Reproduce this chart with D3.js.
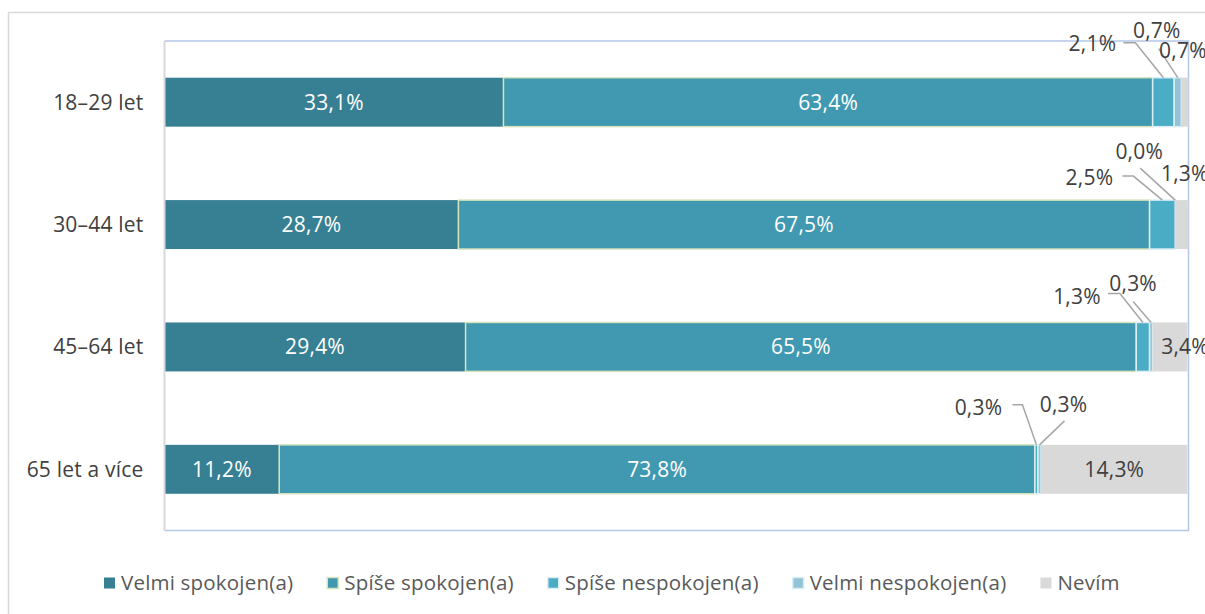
<!DOCTYPE html>
<html>
<head>
<meta charset="utf-8">
<script src="https://cdn.jsdelivr.net/npm/d3@7"></script>
<style>
  body { margin: 0; background: #fff; }
  svg { display: block; font-family: 'Open Sans', sans-serif; letter-spacing: 0.2px; }
</style>
</head>
<body>
<div id="chart"></div>
<script>
// kategorie a serie
var categories = ['18–29 let', '30–44 let', '45–64 let', '65 let a více'];
var seriesNames = ['Velmi spokojen(a)', 'Spíše spokojen(a)', 'Spíše nespokojen(a)', 'Velmi nespokojen(a)', 'Nevím'];
var velmiSpokojen = [33.1, 28.7, 29.4, 11.2];
var spiseSpokojen = [63.4, 67.5, 65.5, 73.8];
var spiseNespokojen = [2.1, 2.5, 1.3, 0.3];
var velmiNespokojen = [0.7, 0.0, 0.3, 0.3];
var nevim = [0.7, 1.3, 3.4, 14.3];

var colors = ['#377f93', '#4099b0', '#4bacc6', '#93c3d6', '#d9d9d9'];
var strokes = ['none', '#d7e4bd', '#dbeef4', '#dbeef4', 'none'];

// popisky mimo sloupec - offsety od stredu segmentu (horni hrana)
var callouts = [
  {row: 0, s: 2, dx: -71, dy: -34, leader: [[-40, -35], [-28, -35]]},
  {row: 0, s: 3, dx: -21, dy: -47, leader: [[-19, -29]]},
  {row: 0, s: 4, dx: -2, dy: -27, leader: []},
  {row: 1, s: 2, dx: -73, dy: -22, leader: [[-40, -24], [-29, -24]]},
  {row: 1, s: 3, dx: -36, dy: -48, leader: [[-35, -32]]},
  {row: 1, s: 4, dx: 3, dy: -26, leader: []},
  {row: 2, s: 2, dx: -66, dy: -26, leader: [[-35, -29], [-23, -29]]},
  {row: 2, s: 3, dx: -18, dy: -39, leader: [[-18, -21]]},
  {row: 3, s: 2, dx: -58, dy: -37, leader: [[-24, -40], [-14, -40]]},
  {row: 3, s: 3, dx: 24, dy: -40, leader: [[25, -24]]}
];

var W = 1205, H = 614;
var fs = 21;
var margin = {left: 164.5, right: 16.5, top: 41, bottom: 83.5};

var svg = d3.select('#chart')
  .append('svg')
  .attr('width', W)
  .attr('height', H);

// vnejsi ramecek
svg.append('path')
  .attr('d', 'M8.5,' + H + 'V12.5H' + W)
  .attr('fill', 'none')
  .attr('stroke', '#d9d9d9')
  .attr('stroke-width', 1.5);

var x = d3.scaleLinear().domain([0, 100]).range([margin.left, W - margin.right]);
var y = d3.scaleBand().domain(categories).range([margin.top, H - margin.bottom]).paddingInner(0.6).paddingOuter(0.3);

var rows = categories.map(function(c, i) {
  return {cat: c, vals: [velmiSpokojen[i], spiseSpokojen[i], spiseNespokojen[i], velmiNespokojen[i], nevim[i]]};
});

var segs = [];
rows.forEach(function(r, i) {
  var acc = 0;
  r.vals.forEach(function(v, s) {
    segs.push({row: i, cat: r.cat, s: s, v: v, x0: acc, x1: acc + v});
    acc += v;
  });
});

// plot area ramecek
svg.append('path')
  .attr('d', 'M' + margin.left + ',' + (margin.top) + 'H' + (W - margin.right) + 'V' + (H - margin.bottom) + 'H' + margin.left)
  .attr('fill', 'none')
  .attr('stroke', '#b4c7e7')
  .attr('stroke-width', 1.5);

svg.selectAll('rect.seg')
  .data(segs.filter(function(d) { return d.v > 0; }))
  .enter()
  .append('rect')
  .attr('class', 'seg')
  .attr('x', function(d) { return x(d.x0); })
  .attr('y', function(d) { return y(d.cat); })
  .attr('width', function(d) { return x(d.x1) - x(d.x0); })
  .attr('height', y.bandwidth())
  .attr('fill', function(d) { return colors[d.s]; })
  .attr('stroke', function(d) { return strokes[d.s]; })
  .attr('stroke-width', 1.5);

// osa y
svg.append('line')
  .attr('x1', margin.left).attr('x2', margin.left)
  .attr('y1', margin.top).attr('y2', H - margin.bottom)
  .attr('stroke', '#d9d9d9')
  .attr('stroke-width', 2);

svg.selectAll('text.cat')
  .data(categories)
  .enter()
  .append('text')
  .attr('class', 'cat')
  .attr('x', margin.left - 21)
  .attr('y', function(d) { return y(d) + y.bandwidth() / 2; })
  .attr('dy', '0.35em')
  .attr('text-anchor', 'end')
  .attr('font-size', fs)
  .attr('fill', '#404040')
  .text(function(d) { return d; });

function fmt(v) { return v.toFixed(1).replace('.', ',') + '%'; }

// popisky uvnitr
var big = segs.filter(function(d) { return d.v >= 5; });
svg.selectAll('text.inlab')
  .data(big)
  .enter()
  .append('text')
  .attr('class', 'inlab')
  .attr('x', function(d) { return (x(d.x0) + x(d.x1)) / 2; })
  .attr('y', function(d) { return y(d.cat) + y.bandwidth() / 2; })
  .attr('dy', '0.35em')
  .attr('text-anchor', 'middle')
  .attr('font-size', fs)
  .attr('fill', function(d) { return d.s === 4 ? '#404040' : '#fff'; })
  .text(function(d) { return fmt(d.v); });

// 3,4% - uvnitr Nevím, posunute
var s34 = segs.filter(function(d) { return d.row === 2 && d.s === 4; })[0];
svg.append('text')
  .attr('x', (x(s34.x0) + x(s34.x1)) / 2 + 15)
  .attr('y', y(s34.cat) + y.bandwidth() / 2)
  .attr('dy', '0.35em')
  .attr('text-anchor', 'middle')
  .attr('font-size', fs)
  .attr('fill', '#404040')
  .text(fmt(s34.v));

// popisky s vodicimi carami
callouts.forEach(function(c) {
  var d = segs.filter(function(e) { return e.row === c.row && e.s === c.s; })[0];
  var ax = (x(d.x0) + x(d.x1)) / 2;
  var ay = y(d.cat);
  if (c.leader.length) {
    var pts = c.leader.map(function(p) { return [ax + p[0], ay + p[1]]; });
    pts.push([ax, ay]);
    svg.append('path')
      .attr('d', d3.line()(pts))
      .attr('fill', 'none')
      .attr('stroke', '#a6a6a6')
      .attr('stroke-width', 1.5);
  }
  svg.append('text')
    .attr('x', ax + c.dx)
    .attr('y', ay + c.dy)
    .attr('dy', '0.35em')
    .attr('text-anchor', 'middle')
    .attr('font-size', fs)
    .attr('fill', '#404040')
    .text(fmt(d.v));
});

// legenda
var lg = svg.append('g').attr('transform', 'translate(0,583)');
var lx = 104;
seriesNames.forEach(function(n, i) {
  lg.append('rect')
    .attr('x', lx).attr('y', -5.5)
    .attr('width', 11).attr('height', 11)
    .attr('fill', colors[i])
    .attr('stroke', strokes[i])
    .attr('stroke-width', 1.5);
  var t = lg.append('text')
    .attr('x', lx + 17)
    .attr('y', 0)
    .attr('dy', '0.35em')
    .attr('font-size', 20.5)
    .attr('fill', '#595959')
    .text(n);
  lx += 17 + t.node().getComputedTextLength() + 34;
});
</script>
</body>
</html>
